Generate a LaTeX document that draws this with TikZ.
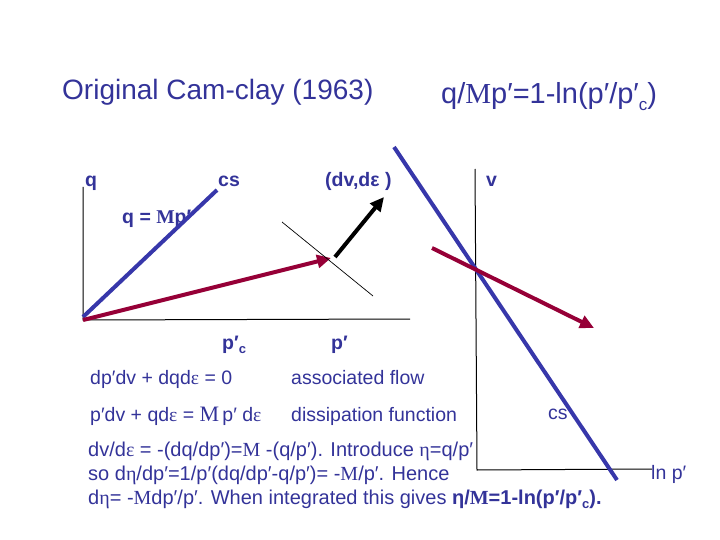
\documentclass[tikz,border=0pt]{standalone}
\usepackage{fontspec}
\setmainfont{Liberation Sans}
\newfontfamily\serifM{Liberation Serif}
\usetikzlibrary{arrows.meta}
\definecolor{txtblue}{RGB}{51,51,153}
\definecolor{lineblue}{RGB}{55,55,170}
\definecolor{maroon}{RGB}{150,0,55}
\newcommand\symM{{\serifM M}}
\newcommand\syme{{\serifM ε}}
\newcommand\symeta{{\serifM η}}
\newcommand\lowc[1]{\raisebox{-0.4ex}{\fontsize{#1}{#1}\selectfont c}}
\tikzset{
  lbl/.style={inner sep=0pt, anchor=base west, text=txtblue, font=\fontsize{19.5}{22}\selectfont},
  blbl/.style={lbl, font=\fontsize{19.5}{22}\selectfont\bfseries},
  body/.style={lbl, font=\fontsize{20}{22}\selectfont},
  ttl/.style={lbl, font=\fontsize{28}{30}\selectfont},
  axis/.style={black, line width=1pt},
  csline/.style={lineblue, line width=4pt},
  path/.style={maroon, line width=4pt, -{Triangle[length=14pt,width=13pt]}},
  incr/.style={black, line width=4pt, -{Triangle[length=14pt,width=13pt]}},
  thin/.style={black, line width=0.7pt}
}
\begin{document}
\begin{tikzpicture}[x=1pt,y=-1pt]
\useasboundingbox (0,0) rectangle (720,540);
% titles
\node[ttl] (title) at (62,100) {Original Cam-clay (1963)};
\node[ttl, font=\fontsize{29}{30}\selectfont] (form) at (441,104) {q/\symM p′=1-ln(p′/p′\lowc{17})};
% left axes
\coordinate (O) at (83,320);
\coordinate (qtop) at (83,187);
\coordinate (pend) at (410,319);
\draw[axis] (qtop) -- (O) -- (pend);
\coordinate (cs0) at (83,317);
\coordinate (cs1) at (217,190);
\node[blbl] (qm) at (122,223) {q = {\serifM\bfseries M}p′};
\draw[csline] (cs0) -- (cs1);
\coordinate (a0) at (83,320);
\coordinate (a1) at (331,258);
\draw[path] (a0) -- (a1);
\coordinate (y0) at (282,222);
\coordinate (y1) at (373,296);
\draw[thin] (y0) -- (y1);
\coordinate (d0) at (335,257);
\coordinate (d1) at (384,197);
\draw[incr] (d0) -- (d1);
\node[blbl] (q) at (85,187) {q};
\node[blbl] (cs) at (218,187) {cs};
\node[blbl] (dvde) at (325,187) {(dv,dε )};
\node[blbl] (v) at (486,187) {v};
\node[blbl] (pc) at (222,349) {p′\lowc{13}};
\node[blbl] (p) at (331,349) {p′};
% right axes
\coordinate (vtop) at (475,169);
\coordinate (R) at (477,470);
\coordinate (lnend) at (652,469);
\draw[axis] (vtop) -- (R) -- (lnend);
\coordinate (b0) at (394,147);
\coordinate (b1) at (617,480);
\draw[csline] (b0) -- (b1);
\coordinate (r0) at (432,248);
\coordinate (r1) at (594,328);
\draw[path] (r0) -- (r1);
\node[lbl] (cs2) at (548,419) {cs};
\node[lbl] (lnp) at (651,479) {ln p′};
% equations
\node[lbl] (e1) at (90,384) {dp′dv + dqd\syme{} = 0};
\node[lbl] (e1b) at (291,384) {associated flow};
\node[lbl] (e2) at (90,421) {p′dv + qd\syme{} = {\fontsize{22}{22}\selectfont\symM}\,p′ d\syme};
\node[lbl] (e2b) at (291,421) {dissipation function};
\node[body] (t1) at (88,456) {dv/d\syme{} = -(dq/dp′)=\symM{} -(q/p′). Introduce \symeta=q/p′};
\node[body] (t2) at (88,480) {so d\symeta/dp′=1/p′(dq/dp′-q/p′)= -\symM/p′. Hence};
\node[body] (t3) at (88,504) {d\symeta= -\symM dp′/p′. When integrated this gives \textbf{η/{\serifM\bfseries M}=1-ln(p′/p′\lowc{13}).}};
\end{tikzpicture}
\end{document}
